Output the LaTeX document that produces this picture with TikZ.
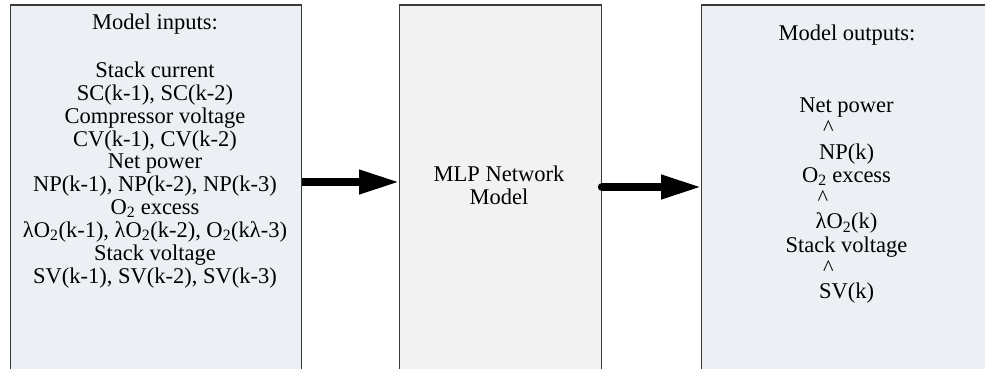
\documentclass[tikz,border=0pt]{standalone}
\usepackage{fontspec}
\setmainfont{Liberation Serif}
\usetikzlibrary{arrows.meta}

\definecolor{panelblue}{RGB}{236,240,245}
\definecolor{panelgray}{RGB}{242,242,242}
\definecolor{edgegray}{RGB}{58,58,58}

% caret shifted left of the line centre by half of #1
\newcommand\leftcaret[1]{\makebox[0pt]{\textasciicircum\kern#1}}

\tikzset{
  panel/.style={draw=edgegray, line width=1.1pt, inner sep=0pt,
                minimum height=420pt, anchor=north west},
  % anchored at the baseline of the last line
  txt/.style={inner sep=0pt, align=center, anchor=base},
  flow/.style={line width=7.5pt, -{Triangle[length=40pt,width=23pt]}}
}

\begin{document}
\begin{tikzpicture}[x=1pt, y=-1pt]
  \clip (0,0) rectangle (985,369);

  % the three blocks, open at the bottom
  \node[panel, fill=panelblue, minimum width=291.5pt] (inp) at (9.5,4.5) {};
  \node[panel, fill=panelgray, minimum width=201.5pt] (mlp) at (399,4.5) {};
  \node[panel, fill=panelblue, minimum width=300pt]   (outp) at (701,4.5) {};

  % inputs
  \node[txt, font=\fontsize{22.5}{22.9}\selectfont] (inptitle) at (155,30) {Model inputs:};
  \node[txt, font=\fontsize{22.5}{22.9}\selectfont] (inplist) at (155,283.4) {%
    Stack current\\
    SC(k-1), SC(k-2)\\
    Compressor voltage\\
    CV(k-1), CV(k-2)\\
    Net power\\
    NP(k-1), NP(k-2), NP(k-3)\\
    O\textsubscript{2} excess\\
    λO\textsubscript{2}(k-1), λO\textsubscript{2}(k-2), O\textsubscript{2}(kλ-3)\\
    Stack voltage\\
    SV(k-1), SV(k-2), SV(k-3)};

  % network
  \node[txt, font=\fontsize{22.5}{22.5}\selectfont] (mlptext) at (499,204) {MLP Network\\Model};

  % outputs
  \node[txt, font=\fontsize{22.5}{23.25}\selectfont] (outtitle) at (847,41) {Model outputs:};
  \node[txt, font=\fontsize{22.5}{23.25}\selectfont] (outlist) at (846.5,298.5) {%
    Net power\\
    \leftcaret{36pt}\\
    NP(k)\\
    O\textsubscript{2} excess\\
    \leftcaret{47pt}\\
    λO\textsubscript{2}(k)\\
    Stack voltage\\
    \leftcaret{36pt}\\
    SV(k)};

  % connectors
  \coordinate (lane1) at (0,182);
  \coordinate (lane2) at (0,187);
  \draw[flow] (inp.east |- lane1) -- (mlp.west |- lane1);
  \draw[flow, line cap=round] (mlp.east |- lane2) -- (outp.west |- lane2);
\end{tikzpicture}
\end{document}
